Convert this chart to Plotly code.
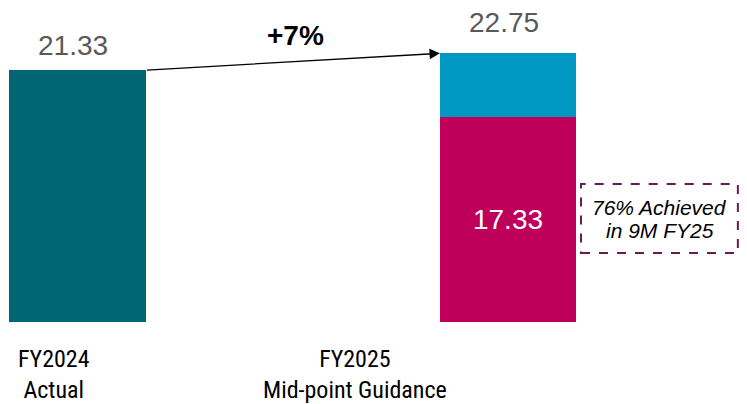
import plotly.graph_objects as go

categories = ["FY2024", "FY2025"]
cat_labels = ["FY2024<br>Actual", "FY2025<br>Mid-point Guidance"]
actual_fy24 = [21.33, None]
achieved_9m = [None, 17.33]
guidance_total = 22.75
remaining = [None, round(guidance_total - 17.33, 2)]
totals = [21.33, 22.75]
box_lines = ["76% Achieved", "in 9M FY25"]

TEAL = "#006673"
MAGENTA = "#BE005A"
BLUE = "#0098C3"
GRAY = "#595959"
PURPLE = "#6B1A55"
FONT = "Liberation Sans, Arial, sans-serif"
NARROW = "Roboto Condensed, Liberation Sans Narrow, Arial Narrow, DejaVu Sans Condensed, Liberation Sans, sans-serif"

xs = [0, 1]
W = 0.316

fig = go.Figure()
fig.add_bar(x=xs, y=actual_fy24, marker_color=TEAL, width=W, marker_line_width=0)
fig.add_bar(x=xs, y=achieved_9m, marker_color=MAGENTA, width=W, marker_line_width=0,
            text=[None, f"{achieved_9m[1]:.2f}"], textposition="inside",
            insidetextanchor="middle",
            textfont=dict(color="white", size=28, family=FONT))
fig.add_bar(x=xs, y=remaining, marker_color=BLUE, width=W, marker_line_width=0)

anns = []
shifts = [25, 31]
for i, t in enumerate(totals):
    anns.append(dict(x=xs[i], y=t, xref="x", yref="y", text=f"{t:.2f}",
                     showarrow=False, yanchor="middle", yshift=shifts[i],
                     xshift=-4,
                     font=dict(size=28, color=GRAY, family=FONT)))

# growth arrow
anns.append(dict(x=xs[1] - W / 2, y=totals[1], ax=xs[0] + W / 2, ay=totals[0],
                 xref="x", yref="y", axref="x", ayref="y", text="",
                 showarrow=True, arrowhead=2, arrowsize=1.6, arrowwidth=1.3,
                 arrowcolor="black", standoff=0, startstandoff=0))
pct = round((totals[1] / totals[0] - 1) * 100)
anns.append(dict(x=0.5075, y=24.3, xref="x", yref="y", text=f"<b>+{pct}%</b>",
                 showarrow=False, font=dict(size=28, color="black", family=FONT)))

# category labels
xsh = [-23.5, -153]
for i, lab in enumerate(cat_labels):
    anns.append(dict(x=xs[i], y=0, xref="x", yref="paper", text=lab,
                     showarrow=False, yanchor="middle", yshift=-52, xshift=xsh[i],
                     font=dict(size=24, color="black", family=NARROW)))

# dashed box text
anns.append(dict(x=1.352, y=(322 - 207.5) / 11.81, xref="x", yref="y",
                 text=f"<i>{box_lines[0]}</i>", showarrow=False,
                 font=dict(size=21, color="black", family=FONT)))
anns.append(dict(x=1.352, y=(322 - 230.5) / 11.81, xref="x", yref="y",
                 text=f"<i>{box_lines[1]}</i>", showarrow=False,
                 font=dict(size=21, color="black", family=FONT)))

fig.add_shape(type="rect", xref="x", yref="y", x0=1.1696, x1=1.534, y0=5.84, y1=11.68,
              line=dict(color=PURPLE, width=2, dash="dash"), fillcolor="rgba(0,0,0,0)")

fig.update_layout(
    barmode="stack", width=747, height=404,
    margin=dict(l=0, r=0, t=0, b=82),
    plot_bgcolor="white", paper_bgcolor="white",
    showlegend=False, annotations=anns,
    xaxis=dict(range=[-0.180, 1.5552], visible=False),
    yaxis=dict(range=[0, 27.27], visible=False),
)
fig.write_html("out.html")
